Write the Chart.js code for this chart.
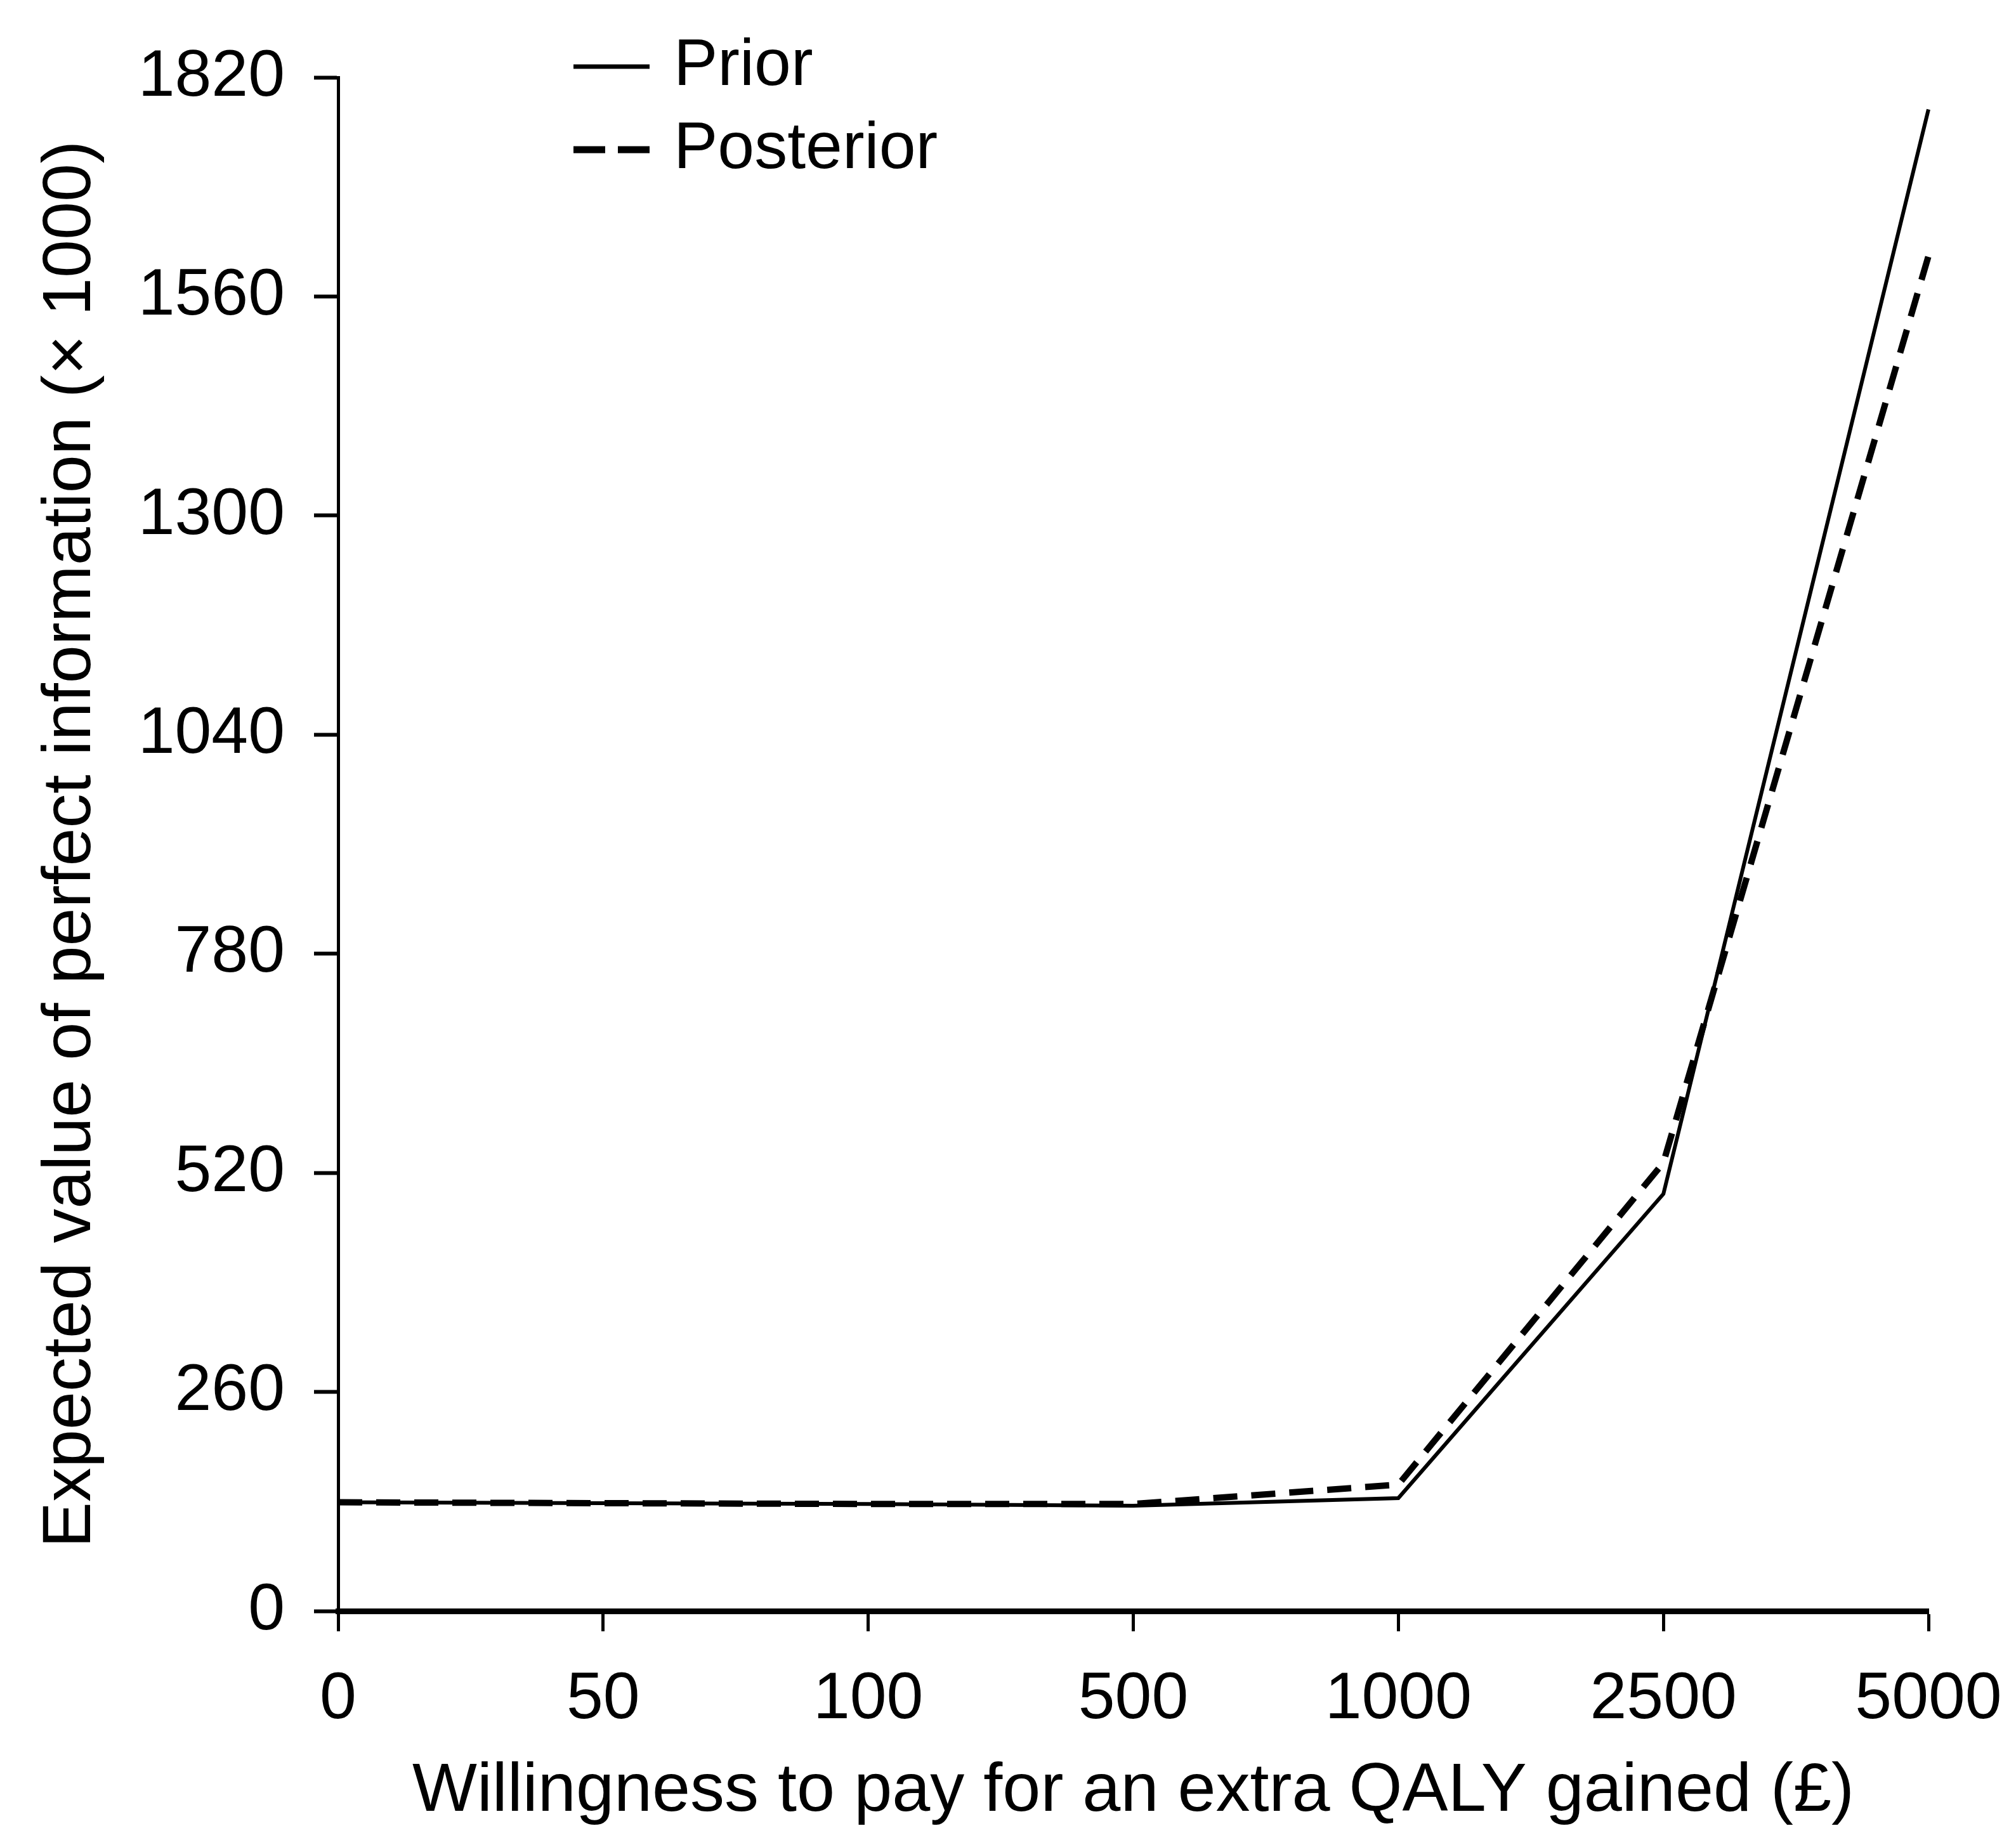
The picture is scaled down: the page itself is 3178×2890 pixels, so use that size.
<!DOCTYPE html>
<html>
<head>
<meta charset="utf-8">
<script src="https://cdn.jsdelivr.net/npm/chart.js@4.4.0/dist/chart.umd.min.js"></script>
<style>
  html, body { margin: 0; padding: 0; background: #fff; }
  canvas { display: block; }
</style>
</head>
<body>
<canvas id="grafico" width="3178" height="2890"></canvas>
<script>
// valores
const disposicao = ['0', '50', '100', '500', '1000', '2500', '5000'];
const priori = [129, 128, 127, 125, 134, 495, 1782];
const posteriori = [129, 128, 127, 127, 150, 532, 1608];
const ticksY = [0, 260, 520, 780, 1040, 1300, 1560, 1820];

const fonte = '"Liberation Sans", Arial, sans-serif';

// legenda desenhada à mão dentro da área do gráfico
const legendaPlugin = {
    id: 'legenda',
    afterDraw(chart) {
        const ctx = chart.ctx;
        const itens = [
            { texto: 'Prior', dash: [], largura: 7, y: 105 },
            { texto: 'Posterior', dash: [50, 20], largura: 11, y: 236 }
        ];
        ctx.save();
        ctx.fillStyle = '#000';
        ctx.strokeStyle = '#000';
        ctx.font = '104px ' + fonte;
        ctx.textBaseline = 'middle';
        itens.forEach(item => {
            ctx.lineWidth = item.largura;
            ctx.setLineDash(item.dash);
            ctx.beginPath();
            ctx.moveTo(904, item.y);
            ctx.lineTo(1024, item.y);
            ctx.stroke();
            ctx.fillText(item.texto, 1062, item.y);
        });
        ctx.restore();
    }
};

new Chart(document.getElementById('grafico'), {
    type: 'line',
    data: {
        labels: disposicao,
        datasets: [{
            label: 'Prior',
            data: priori,
            borderColor: '#000',
            borderWidth: 6,
            pointRadius: 0,
            tension: 0,
            fill: false
        }, {
            label: 'Posterior',
            data: posteriori,
            borderColor: '#000',
            borderWidth: 10,
            borderDash: [38, 22],
            pointRadius: 0,
            tension: 0,
            fill: false
        }]
    },
    options: {
        responsive: false,
        animation: false,
        devicePixelRatio: 1,
        layout: {
            padding: { top: 122, right: 138, left: 0, bottom: 0 }
        },
        scales: {
            x: {
                offset: false,
                afterFit: function (scale) {
                    scale.height = 350;
                    scale.paddingRight = 0; // a margem da direita fica no layout
                },
                grid: {
                    drawOnChartArea: false,
                    drawTicks: true,
                    tickLength: 32,
                    tickWidth: 5,
                    color: '#000'
                },
                border: { display: true, color: '#000', width: 9 },
                ticks: {
                    color: '#000',
                    padding: 46,
                    maxRotation: 0,
                    autoSkip: false,
                    font: { family: fonte, size: 104 }
                },
                title: {
                    display: true,
                    text: 'Willingness to pay for an extra QALY gained (£)',
                    color: '#000',
                    padding: { top: 0, bottom: 0 },
                    font: { family: fonte, size: 108 }
                }
            },
            y: {
                min: 0,
                max: 1820,
                afterFit: function (scale) { scale.width = 533; },
                afterBuildTicks: function (scale) {
                    scale.ticks = ticksY.map(v => ({ value: v }));
                },
                grid: {
                    drawOnChartArea: false,
                    drawTicks: true,
                    tickLength: 38,
                    tickWidth: 6,
                    color: '#000'
                },
                border: { display: true, color: '#000', width: 5 },
                ticks: {
                    color: '#000',
                    padding: 46,
                    font: { family: fonte, size: 104 },
                    callback: function (value) {
                        return String(value);
                    }
                },
                title: {
                    display: true,
                    text: 'Expected value of perfect information (× 1000)',
                    color: '#000',
                    padding: { top: 47, bottom: 0 },
                    font: { family: fonte, size: 108 }
                }
            }
        },
        plugins: {
            legend: { display: false },
            tooltip: { enabled: false }
        }
    },
    plugins: [legendaPlugin]
});
</script>
</body>
</html>
